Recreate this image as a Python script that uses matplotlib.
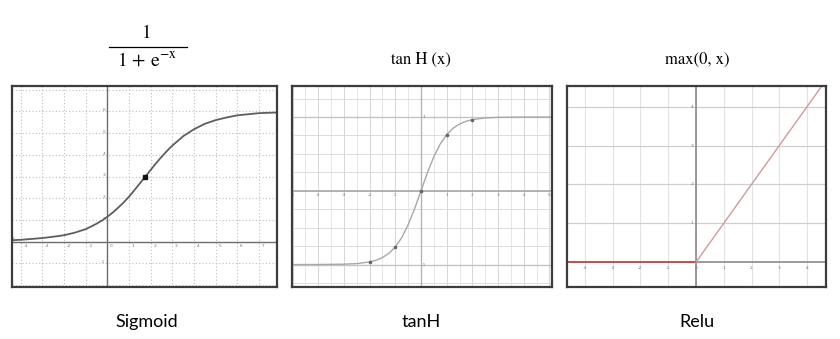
import matplotlib
matplotlib.use("Agg")
import matplotlib.pyplot as plt
from matplotlib.lines import Line2D
import numpy as np

# ---- data ----
sig_x = [-4.42, -4, -3.5, -3, -2.5, -2, -1.5, -1, -0.5, -0.25, 0, 0.25, 0.5, 0.75, 1, 1.25, 1.5,
         1.75, 2, 2.25, 2.5, 2.75, 3, 3.5, 4, 4.5, 5, 5.5, 6, 7, 7.83]
sig_y = [0.07, 0.09, 0.13, 0.17, 0.23, 0.30, 0.42, 0.58, 0.83, 0.98, 1.15, 1.35, 1.57, 1.81, 2.08,
         2.38, 2.69, 3.00, 3.31, 3.62, 3.91, 4.18, 4.43, 4.86, 5.18, 5.43, 5.60, 5.72, 5.82, 5.92, 5.95]
sig_pt = (1.75, 3.0)

tanh_x = [-5.01, -4, -3, -2.5, -2, -1.75, -1.5, -1.25, -1, -0.75, -0.5, -0.25, 0,
          0.25, 0.5, 0.75, 1, 1.25, 1.5, 1.75, 2, 2.5, 3, 4, 5.1]
tanh_y = [-1.0, -0.999, -0.995, -0.987, -0.964, -0.941, -0.905, -0.848, -0.762, -0.635, -0.462, -0.245, 0.0,
          0.245, 0.462, 0.635, 0.762, 0.848, 0.905, 0.941, 0.964, 0.987, 0.995, 0.999, 1.0]
tanh_pts_x = [-2, -1, 0, 1, 2]
tanh_pts_y = [-0.964, -0.762, 0.0, 0.762, 0.964]

relu_neg_x = [-4.63, 0]
relu_neg_y = [0, 0]
relu_pos_x = [0, 4.67]
relu_pos_y = [0, 4.67]

sig_xticks = [-4, -3, -2, -1, 0, 1, 2, 3, 4, 5, 6, 7]
sig_yticks = [-1, 1, 2, 3, 4, 5, 6]
tanh_xticks = [-5, -4, -3, -2, -1, 1, 2, 3, 4, 5]
tanh_yticks = [-1, 1]
relu_xticks = [-4, -3, -2, -1, 0, 1, 2, 3, 4]
relu_yticks = [1, 2, 3, 4]

sig_num = '1'
sig_den = r'$1\,+\,\mathrm{e}^{-\mathrm{x}}$'
titles_top = ['tan H (x)', 'max(0, x)']
titles_bottom = ['Sigmoid', 'tanH', 'Relu']

plt.rcParams['mathtext.fontset'] = 'stix'

fig = plt.figure(figsize=(8.4, 3.39), dpi=100)

W, H = 840.0, 339.0
def axrect(l, t, r, b):
    return [l / W, 1 - b / H, (r - l) / W, (b - t) / H]

ax1 = fig.add_axes(axrect(11.7, 86, 277, 286.7))
ax2 = fig.add_axes(axrect(292.3, 86, 552, 286.7))
ax3 = fig.add_axes(axrect(567.3, 86, 825.7, 286.7))

for ax in (ax1, ax2, ax3):
    ax.set_xticks([])
    ax.set_yticks([])
    for s in ax.spines.values():
        s.set_color('#3c3c3c')
        s.set_linewidth(1.6)
        s.set_zorder(10)

tick_fs = 3.2
tcol = '#777777'

# ---- Sigmoid ----
ax1.set_xlim(-4.42, 7.83)
ax1.set_ylim(-2.07, 7.17)
for gx in range(-4, 8):
    ax1.axvline(gx, color='#bdbdbd', lw=0.8, ls=(0, (1, 2)), zorder=1)
for gy in range(-2, 8):
    ax1.axhline(gy, color='#bdbdbd', lw=0.8, ls=(0, (1, 2)), zorder=1)
ax1.axhline(0, color='#6e6e6e', lw=1.0, zorder=2)
ax1.axvline(0, color='#6e6e6e', lw=1.0, zorder=2)
ax1.plot(sig_x, sig_y, color='#5e5e5e', lw=1.3, zorder=3, solid_joinstyle='round')
ax1.plot([sig_pt[0]], [sig_pt[1]], 's', color='#111111', ms=2.8, zorder=4)
for v in sig_xticks:
    ax1.text(v + 0.12, -0.12, str(v), fontsize=tick_fs, color=tcol, ha='left', va='top')
for v in sig_yticks:
    ax1.text(-0.1, v + 0.05, str(v), fontsize=tick_fs, color=tcol, ha='right', va='center')
ax1.text(-4.35, 0.02, 'f', fontsize=tick_fs, color=tcol, ha='left', va='bottom')

# ---- tanH ----
ax2.set_xlim(-5.01, 5.1)
ax2.set_ylim(-1.30, 1.42)
for gx in np.arange(-5, 5.5, 0.5):
    ax2.axvline(gx, color='#e6e6e6' if gx % 1 else '#d6d6d6', lw=0.7, zorder=1)
for gy in np.arange(-1.25, 1.5, 0.25):
    ax2.axhline(gy, color='#dcdcdc', lw=0.7, zorder=1)
ax2.axhline(1, color='#c4c4c4', lw=1.0, zorder=1)
ax2.axhline(-1, color='#c4c4c4', lw=1.0, zorder=1)
ax2.axhline(0, color='#a8a8a8', lw=1.2, zorder=2)
ax2.axvline(0, color='#b4b4b4', lw=1.0, zorder=2)
ax2.plot(tanh_x, tanh_y, color='#a8a8a8', lw=1.0, zorder=3, solid_joinstyle='round')
ax2.plot(tanh_pts_x, tanh_pts_y, 'o', color='#666666', ms=1.6, zorder=4)
for v in tanh_xticks:
    ax2.text(v, -0.03, str(v), fontsize=tick_fs, color=tcol, ha='center', va='top')
for v in tanh_yticks:
    ax2.text(0.05, v, str(v), fontsize=tick_fs, color=tcol, ha='left', va='center')

# ---- Relu ----
ax3.set_xlim(-4.63, 4.67)
ax3.set_ylim(-0.63, 4.53)
for gx in range(-4, 5):
    ax3.axvline(gx, color='#e2e2e2', lw=0.8, zorder=1)
for gy in range(1, 5):
    ax3.axhline(gy, color='#cfcfcf', lw=0.9, zorder=1)
ax3.axhline(0, color='#8a8a8a', lw=1.2, zorder=2)
ax3.axvline(0, color='#8a8a8a', lw=1.2, zorder=2)
ax3.plot(relu_neg_x, relu_neg_y, color='#c44a4a', lw=1.3, zorder=3)
ax3.plot(relu_pos_x, relu_pos_y, color='#d29a9a', lw=1.0, zorder=3)
for v in relu_xticks:
    ax3.text(v, -0.1, str(v), fontsize=tick_fs, color=tcol, ha='center', va='top')
for v in relu_yticks:
    ax3.text(-0.08, v, str(v), fontsize=tick_fs, color=tcol, ha='right', va='center')

# ---- titles ----
centers = [147, 421, 697]
fig.text(centers[0] / W, 1 - 33 / H, sig_num, fontsize=14, family='STIXGeneral',
         ha='center', va='center')
fig.add_artist(Line2D([109 / W, 187 / W], [1 - 47 / H, 1 - 47 / H], color='black', lw=0.9))
fig.text(centers[0] / W, 1 - 60 / H, sig_den, fontsize=14, ha='center', va='center')
for c, t in zip(centers[1:], titles_top):
    fig.text(c / W, 1 - 60 / H, t, fontsize=12, family='STIXGeneral', ha='center', va='center')
for c, t in zip(centers, titles_bottom):
    fig.text(c / W, 1 - 322 / H, t, fontsize=13, family='Lato', ha='center', va='center')

fig.savefig('out.png', dpi=100, facecolor='white')
